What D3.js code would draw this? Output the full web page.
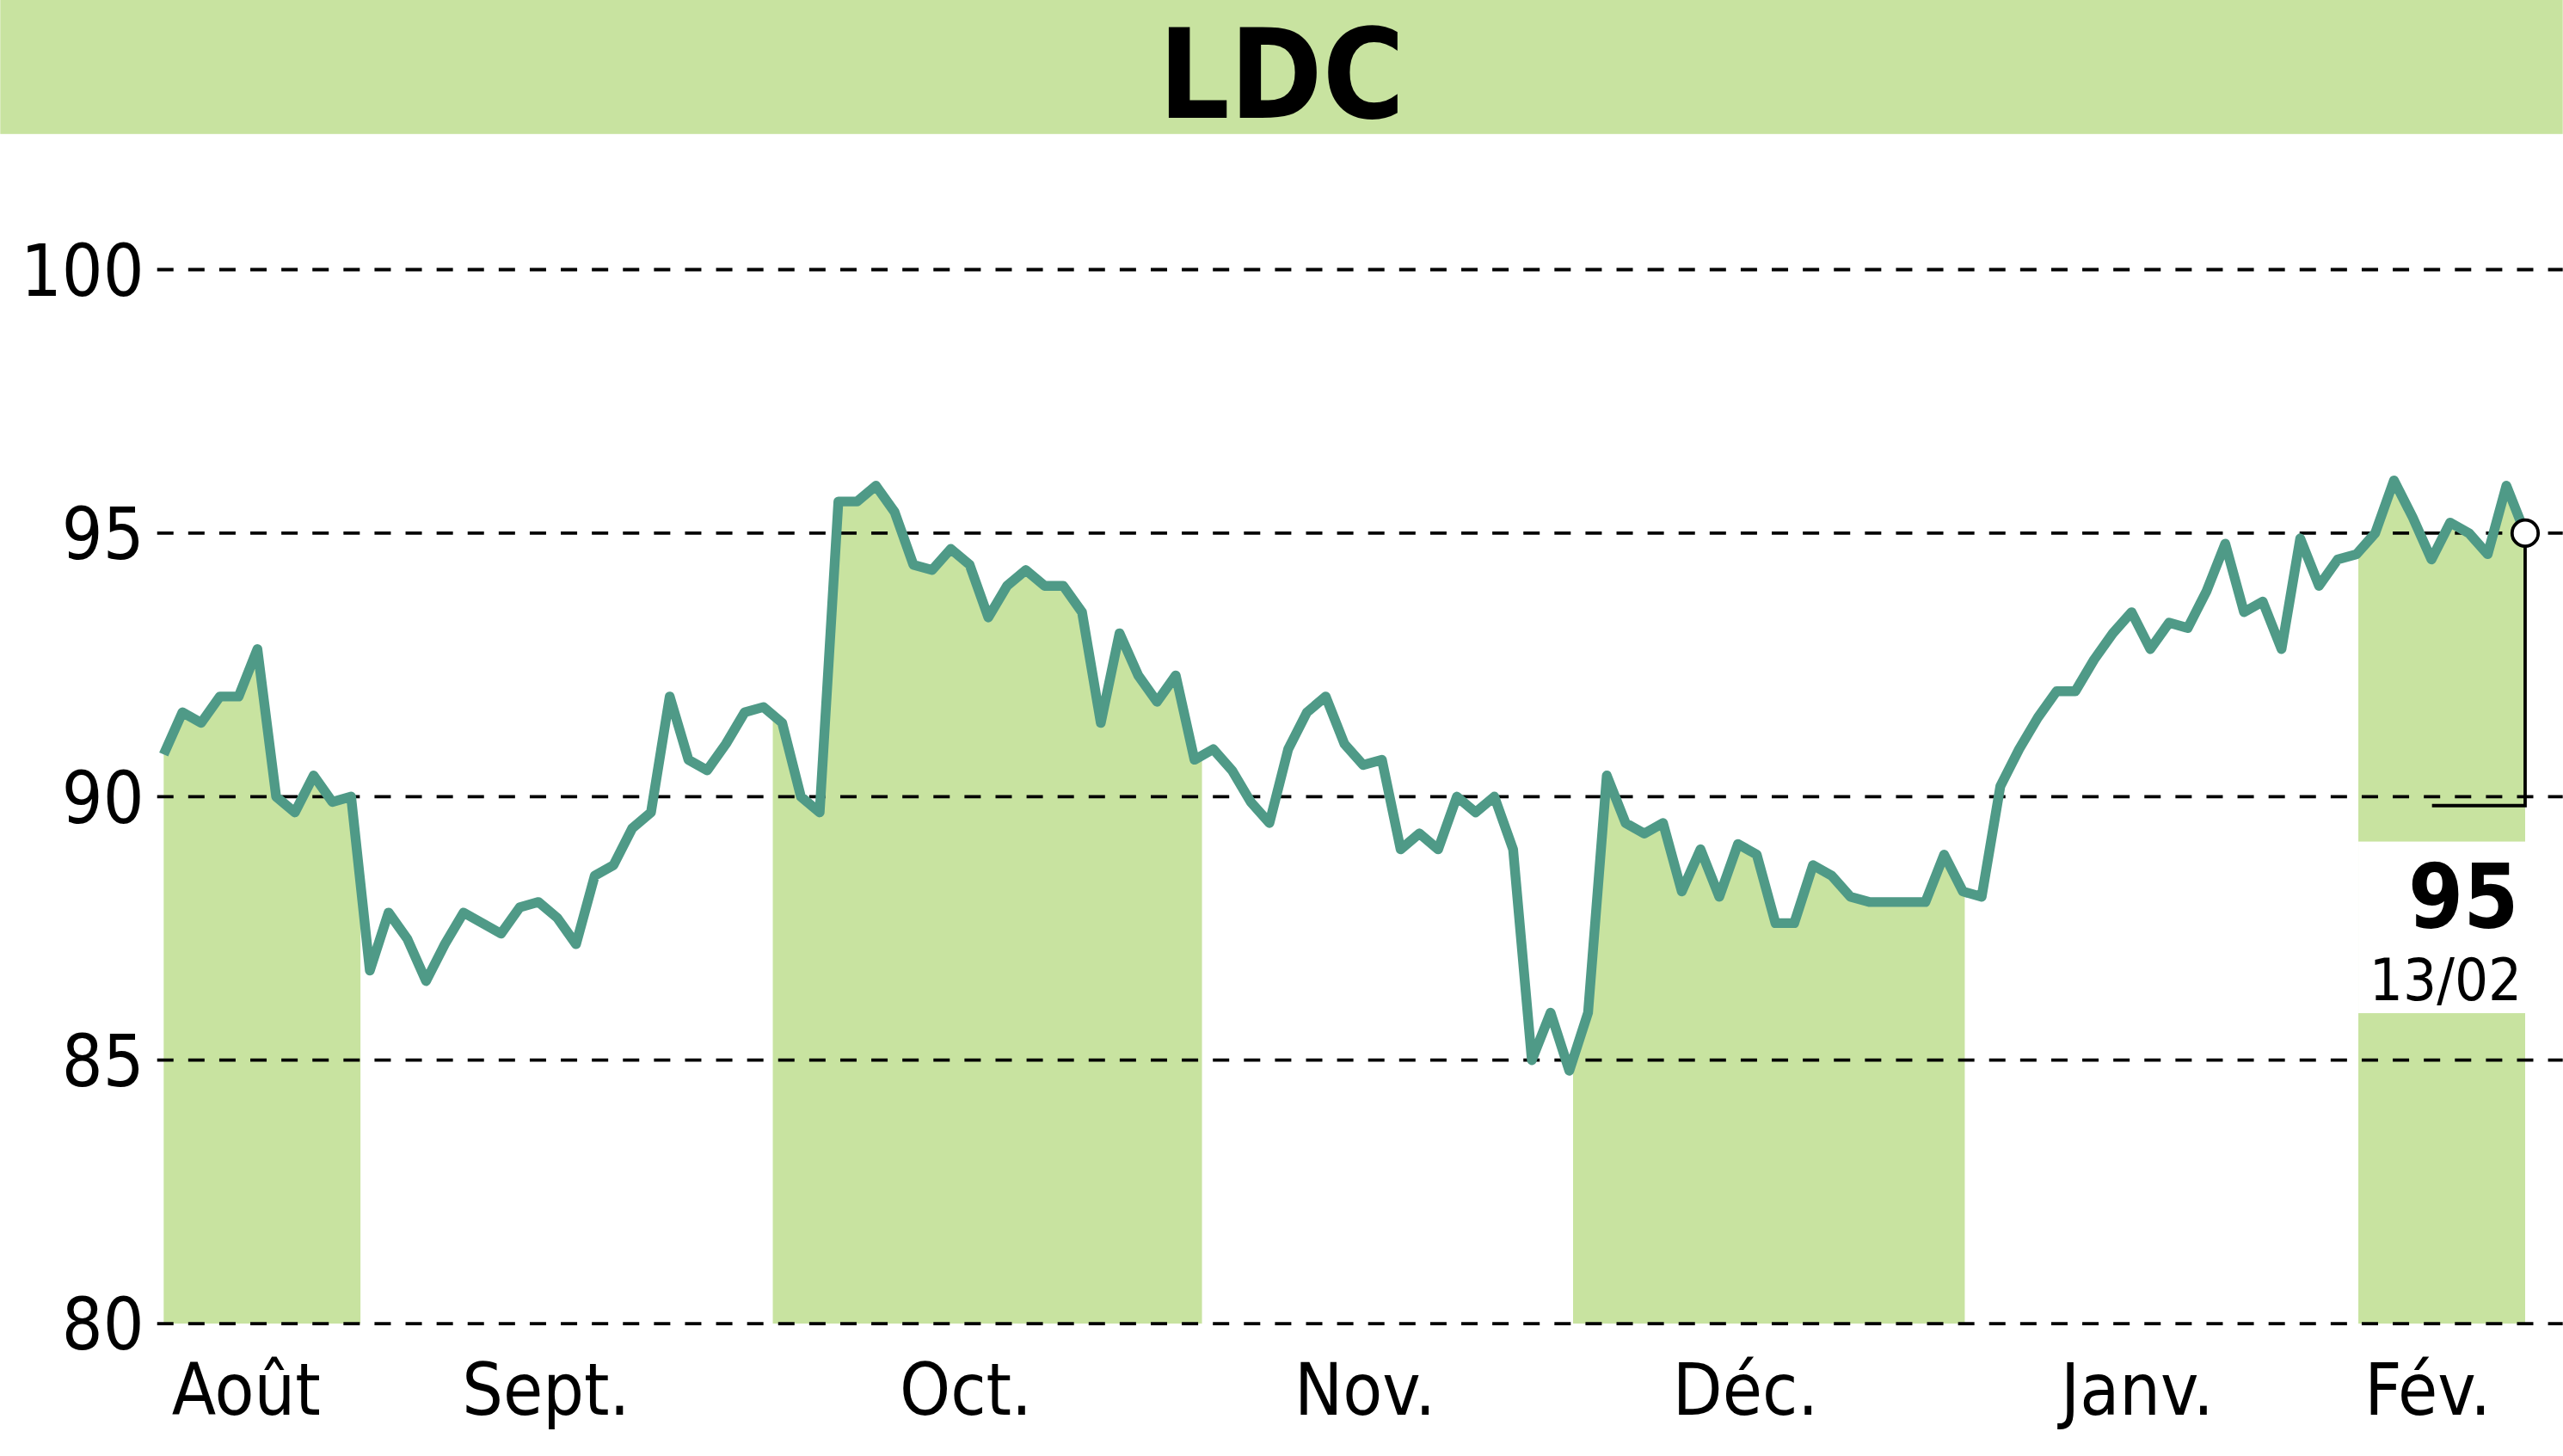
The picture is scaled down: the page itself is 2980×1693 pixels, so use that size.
<!DOCTYPE html><html><head><meta charset="utf-8">
<script src="https://cdn.jsdelivr.net/npm/d3@7"></script>
<style>body{margin:0;background:#fff}</style></head><body>
<script>
const title="LDC";
const values=[90.8,91.6,91.4,91.9,91.9,92.8,90.0,89.7,90.4,89.9,
90.0,86.7,87.8,87.3,86.5,87.2,87.8,87.6,87.4,87.9,
88.0,87.7,87.2,88.5,88.7,89.4,89.7,91.9,90.7,90.5,
91.0,91.6,91.7,91.4,90.0,89.7,95.6,95.6,95.9,95.4,
94.4,94.3,94.7,94.4,93.4,94.0,94.3,94.0,94.0,93.5,
91.4,93.1,92.3,91.8,92.3,90.7,90.9,90.5,89.9,89.5,
90.9,91.6,91.9,91.0,90.6,90.7,89.0,89.3,89.0,90.0,
89.7,90.0,89.0,85.0,85.9,84.8,85.9,90.4,89.5,89.3,
89.5,88.2,89.0,88.1,89.1,88.9,87.6,87.6,88.7,88.5,
88.1,88.0,88.0,88.0,88.0,88.9,88.2,88.1,90.2,90.9,
91.5,92.0,92.0,92.6,93.1,93.5,92.8,93.3,93.2,93.9,
94.8,93.5,93.7,92.8,94.9,94.0,94.5,94.6,95.0,96.0,
95.3,94.5,95.2,95.0,94.6,95.9,95.0];
const yTicks=[80,85,90,95,100];
const months=["Août","Sept.","Oct.","Nov.","Déc.","Janv.","Fév."];
const monthPos=[4.4,20.4,42.8,64.1,84.4,105.3,120.8];
const bands=[[-0.17,10.5],[32.5,55.4],[75.2,96.1],[117.1,126]];
const lastLabel="95", lastDate="13/02";

const W=1568,H=891;
const svg=d3.select("body").append("svg").attr("width",2980).attr("height",1693).attr("viewBox",`0 0 ${W} ${H}`);
const font="'DejaVu Sans Condensed','DejaVu Sans',sans-serif";
svg.append("rect").attr("width",W).attr("height",82).attr("fill","#c8e3a0");
svg.append("text").attr("x",784).attr("y",72).attr("text-anchor","middle").attr("font-family",font).attr("font-weight","bold").attr("font-size",76).attr("fill","#000").text(title);
const x=d3.scaleLinear().domain([0,values.length-1]).range([100,1545]);
const y=d3.scaleLinear().domain([80,100]).range([810,165]);
const defs=svg.append("defs");
const cp=defs.append("clipPath").attr("id","bc");
bands.forEach(b=>cp.append("rect").attr("x",x(b[0])).attr("width",x(b[1])-x(b[0])).attr("y",0).attr("height",H));
svg.append("path").datum(values).attr("clip-path","url(#bc)").attr("fill","#c8e3a0")
 .attr("d",d3.area().x((d,i)=>x(i)).y0(y(80)).y1(d=>y(d)));
svg.append("rect").attr("x",x(bands[3][0])).attr("width",x(bands[3][1])-x(bands[3][0])+2).attr("y",515).attr("height",105).attr("fill","#fff");
yTicks.forEach(t=>{
 svg.append("line").attr("x1",96).attr("x2",1568).attr("y1",y(t)).attr("y2",y(t)).attr("stroke","#000").attr("stroke-width",2).attr("stroke-dasharray","10,9");
 svg.append("text").attr("x",88).attr("y",y(t)+16).attr("text-anchor","end").attr("font-family",font).attr("font-size",44).text(t);
});
months.forEach((m,i)=>svg.append("text").attr("x",x(monthPos[i])).attr("y",866).attr("text-anchor","middle").attr("font-family",font).attr("font-size",44).text(m));
svg.append("path").datum(values).attr("fill","none").attr("stroke","#4f9a87").attr("stroke-width",6).attr("stroke-linejoin","round")
 .attr("d",d3.line().x((d,i)=>x(i)).y(d=>y(d)));
const li=values.length-1;
svg.append("path").attr("d",`M${x(li)},${y(values[li])}V493H1488`).attr("fill","none").attr("stroke","#000").attr("stroke-width",2);
svg.append("circle").attr("cx",x(li)).attr("cy",y(values[li])).attr("r",8).attr("fill","#fff").attr("stroke","#000").attr("stroke-width",2);
svg.append("text").attr("x",1541).attr("y",568).attr("text-anchor","end").attr("font-family",font).attr("font-weight","bold").attr("font-size",54).text(lastLabel);
svg.append("text").attr("x",1543).attr("y",612).attr("text-anchor","end").attr("font-family",font).attr("font-size",36).text(lastDate);
</script></body></html>
